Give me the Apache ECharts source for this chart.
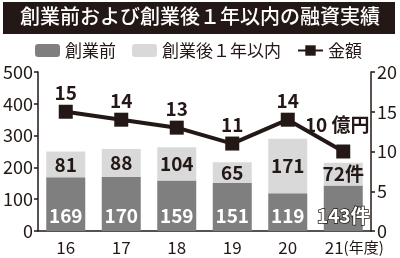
<!DOCTYPE html>
<html><head><meta charset="utf-8">
<script src="https://cdn.jsdelivr.net/npm/echarts@6/dist/echarts.min.js"></script>
<style>html,body{margin:0;padding:0;background:#fff}#c{width:400px;height:258px}</style>
</head><body><div id="c"></div>
<script>
const titleText = '創業前および創業後１年以内の融資実績';
const years = ['16','17','18','19','20','21'];
const beforeFounding = [169,170,159,151,119,143];
const afterFounding = [81,88,104,65,171,72];
const amount = [15,14,13,11,14,10];
const seriesNames = ['創業前','創業後１年以内','金額'];

const FONT = '"Noto Sans CJK JP", "Noto Sans", sans-serif';
const chart = echarts.init(document.getElementById('c'), null, {renderer:'canvas'});
const last = years.length - 1;

chart.setOption({
  animation:false,
  backgroundColor:'#fff',
  textStyle:{fontFamily:FONT},
  graphic:[
    {type:'rect', left:3, top:2, shape:{width:392, height:32}, style:{fill:'#231815'}},
    {type:'text', left:'center', top:6, style:{text:titleText, fill:'#fff', font:'500 20px '+FONT}}
  ],
  legend:{
    top:37, left:30, itemWidth:25, itemHeight:13, itemGap:16,
    textStyle:{fontSize:17, color:'#231815', fontFamily:FONT},
    data:seriesNames
  },
  grid:{left:38, right:29, top:72, bottom:27},
  xAxis:{
    type:'category', data:years,
    axisLine:{lineStyle:{color:'#231815', width:1.5}},
    axisTick:{show:false},
    axisLabel:{
      interval:0,
      fontSize:17, color:'#231815', margin:8, fontFamily:FONT,
      formatter:(v,i)=> i===last ? '{sp|}'+v+'{u|(年度)}' : v,
      rich:{sp:{width:22}, u:{fontSize:15, color:'#231815', fontFamily:FONT}}
    }
  },
  yAxis:[
    {type:'value', min:0, max:500, interval:100,
     axisLine:{show:true, lineStyle:{color:'#231815', width:1.5}},
     axisTick:{show:true, length:4, lineStyle:{color:'#231815', width:1.5}},
     splitLine:{show:false},
     axisLabel:{fontSize:18, color:'#231815', margin:5, fontFamily:FONT}},
    {type:'value', min:0, max:20, interval:5,
     axisLine:{show:true, lineStyle:{color:'#231815', width:1.5}},
     axisTick:{show:true, length:4, lineStyle:{color:'#231815', width:1.5}},
     splitLine:{show:false},
     axisLabel:{fontSize:18, color:'#231815', margin:6, fontFamily:FONT}}
  ],
  series:[
    {name:seriesNames[0], type:'bar', stack:'s', barWidth:39,
     data:beforeFounding.map((v,i)=> i===last ? {value:v, label:{textBorderColor:'#231815', textBorderWidth:1.5}} : v),
     itemStyle:{color:'#7f7f7f'},
     label:{show:true, position:'insideBottom', distance:6, color:'#fff', fontSize:19, fontWeight:'bold', fontFamily:FONT,
       formatter:p=> p.dataIndex===last ? p.value+'件' : ''+p.value}
    },
    {name:seriesNames[1], type:'bar', stack:'s', barWidth:39, data:afterFounding,
     itemStyle:{color:'#d9d9d9'},
     label:{show:true, position:'inside', color:'#231815', fontSize:19, fontWeight:'bold', fontFamily:FONT,
       formatter:p=> p.dataIndex===last ? p.value+'件' : ''+p.value}
    },
    {name:seriesNames[2], type:'line', yAxisIndex:1,
     data:amount.map((v,i)=> i===last ? {value:v, label:{distance:10, offset:[-6,0]}} : v),
     symbol:'rect', symbolSize:14,
     lineStyle:{color:'#231815', width:4},
     itemStyle:{color:'#231815'},
     label:{show:true, position:'top', distance:2, color:'#231815', fontSize:19, fontWeight:'bold', fontFamily:FONT,
       formatter:p=> p.dataIndex===last ? p.value+' 億円' : ''+p.value}
    }
  ]
});
</script></body></html>
